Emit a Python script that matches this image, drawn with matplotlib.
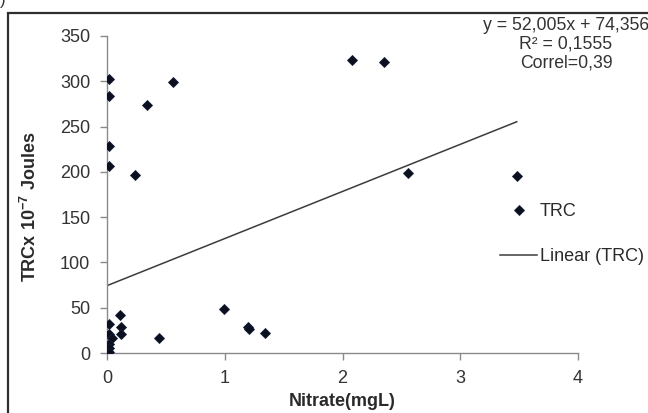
import matplotlib
matplotlib.use("Agg")
import matplotlib.pyplot as plt
from matplotlib.patches import Rectangle
import numpy as np

plt.rcParams['font.family'] = ['Liberation Sans', 'DejaVu Sans']

# Data
nitrate = [0.02, 0.02, 0.02, 0.02, 0.24, 0.34, 0.56, 2.08, 2.35, 2.56, 3.48,
           0.99, 1.20, 1.21, 1.34, 0.44, 0.11, 0.12, 0.12,
           0.02, 0.02, 0.04, 0.02, 0.02, 0.02]
trc = [302, 284, 229, 207, 197, 274, 299, 323, 321, 199, 195,
       49, 29, 26, 22, 17, 42, 29, 21,
       32, 21, 17, 10, 5, 1]
slope = 52.005
intercept = 74.356
eq_text = "y = 52,005x + 74,356\nR² = 0,1555\nCorrel=0,39"
xticks = [0, 1, 2, 3, 4]
yticks = [0, 50, 100, 150, 200, 250, 300, 350]

W, H = 648, 413
fig = plt.figure(figsize=(W / 100, H / 100), dpi=100)
ax = fig.add_axes([107 / W, 1 - 353 / H, (578 - 107) / W, (353 - 36) / H])

ax.plot(nitrate, trc, linestyle='none', marker='D', ms=5.2,
        color='#0b0f1e', mec='#14203a', mew=0.6, label='TRC', zorder=3)
xl = np.array([0, max(nitrate)])
ax.plot(xl, slope * xl + intercept, color='#3c3c3c', lw=1.1,
        label='Linear (TRC)', zorder=2)

ax.set_xlim(0, 4)
ax.set_ylim(0, 350)
ax.set_xticks(xticks)
ax.set_yticks(yticks)
for s in ['top', 'right']:
    ax.spines[s].set_visible(False)
for s in ['left', 'bottom']:
    ax.spines[s].set_color('#8a8a8a')
    ax.spines[s].set_linewidth(1.0)
ax.tick_params(axis='both', direction='out', length=5, width=1.0,
               color='#8a8a8a', labelsize=13, labelcolor='#333333', pad=7)

ax.set_xlabel('Nitrate(mgL)', fontsize=13, fontweight='bold', color='#2a2a2a')
ax.set_ylabel('TRCx 10$^{\\mathregular{-7}}$ Joules', fontsize=13,
              fontweight='bold', color='#2a2a2a')
ax.xaxis.set_label_coords(0.5, (353 - 402) / 317, transform=ax.transAxes)
ax.yaxis.set_label_coords((30 - 107) / 471, (353 - 207) / 317, transform=ax.transAxes)
ax.xaxis.label.set_va('center')
ax.yaxis.label.set_va('center')

leg = fig.legend(loc='upper left', bbox_to_anchor=(500 / W, 1 - 203 / H),
                 frameon=False, fontsize=13, borderpad=0, borderaxespad=0,
                 handlelength=2.05, handletextpad=0.15, labelspacing=1.55)
for t in leg.get_texts():
    t.set_color('#2a2a2a')

fig.text(566 / W, 1 - 17 / H, eq_text, ha='center', va='top',
         multialignment='center', fontsize=12.7, color='#333333',
         linespacing=1.15)

fig.text(0.0, 1 - 1 / H, ')', ha='left', va='center', fontsize=12,
         color='#333333')

fig.patches.append(Rectangle((8 / W, -0.2), 1.5, 1.2 - 13 / H,
                             transform=fig.transFigure, fill=False,
                             edgecolor='#2e2e2e', lw=1.6, zorder=0))

fig.savefig('out.png', dpi=100)
